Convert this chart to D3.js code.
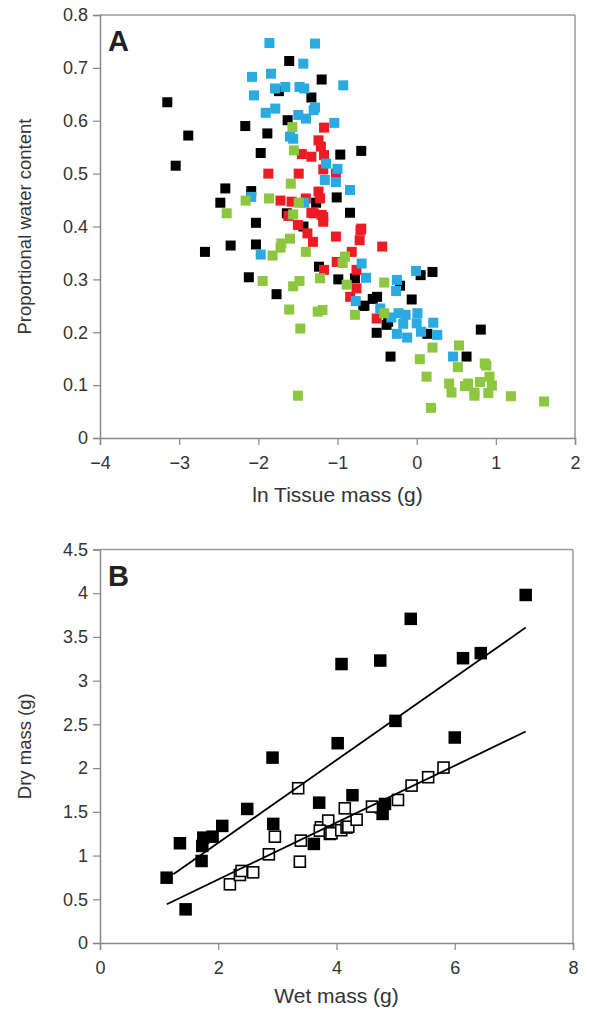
<!DOCTYPE html>
<html>
<head>
<meta charset="utf-8">
<script src="https://cdn.jsdelivr.net/npm/d3@7"></script>
<style>
  body { margin: 0; background: #fff; }
  svg text { font-family: "Liberation Sans", Arial, sans-serif; }
</style>
</head>
<body>
<div id="chart"></div>
<script>
// Panel A: ln tissue mass vs proportional water content, four groups
const blackA = [[-3.15,0.635],[-2.885,0.572],[-3.044,0.515],[-2.165,0.590],[-1.886,0.576],[-1.97,0.539],[-1.61,0.713],[-1.74,0.656],[-1.63,0.601],[-2.417,0.472],[-2.09,0.467],[-2.48,0.445],[-2.03,0.407],[-1.64,0.425],[-1.20,0.678],[-1.33,0.644],[-0.965,0.536],[-0.70,0.543],[-1.01,0.455],[-0.842,0.426],[-1.27,0.445],[-2.674,0.352],[-2.35,0.364],[-2.03,0.366],[-2.12,0.304],[-1.77,0.272],[-1.234,0.324],[-0.99,0.30],[-0.674,0.25],[-1.43,0.40],[-0.78,0.302],[0.20,0.314],[0.05,0.308],[-0.21,0.288],[-0.063,0.262],[-0.50,0.267],[-0.555,0.263],[-0.66,0.25],[-0.38,0.214],[-0.36,0.22],[-0.505,0.199],[0.135,0.197],[-0.33,0.154],[0.63,0.154],[0.81,0.205]];
const redA = [[-1.874,0.500],[-1.72,0.449],[-1.62,0.42],[-1.17,0.587],[-1.24,0.563],[-1.21,0.551],[-1.45,0.537],[-1.33,0.532],[-1.17,0.535],[-1.18,0.508],[-1.49,0.500],[-1.02,0.500],[-1.58,0.447],[-1.40,0.453],[-1.24,0.466],[-1.22,0.453],[-1.33,0.426],[-1.18,0.418],[-1.50,0.403],[-0.70,0.396],[-1.30,0.425],[-1.20,0.422],[-1.18,0.409],[-1.38,0.387],[-1.31,0.371],[-1.02,0.381],[-0.71,0.393],[-0.72,0.374],[-0.82,0.352],[-1.01,0.333],[-1.17,0.318],[-0.76,0.318],[-0.76,0.283],[-0.84,0.267],[-0.435,0.362],[-0.505,0.226]];
const blueA = [[-1.86,0.747],[-2.08,0.683],[-1.84,0.689],[-1.79,0.661],[-1.66,0.664],[-2.055,0.648],[-1.907,0.615],[-1.786,0.623],[-1.60,0.570],[-2.09,0.456],[-1.284,0.746],[-1.432,0.708],[-1.48,0.664],[-1.42,0.661],[-0.927,0.667],[-1.284,0.625],[-1.30,0.62],[-1.495,0.611],[-1.398,0.604],[-1.04,0.596],[-1.56,0.566],[-1.145,0.519],[-1.0,0.509],[-1.16,0.488],[-1.02,0.484],[-0.842,0.469],[-1.42,0.445],[-1.97,0.347],[-0.695,0.330],[-0.64,0.303],[-0.77,0.259],[-0.008,0.316],[-0.25,0.299],[-0.26,0.278],[-0.46,0.245],[-0.23,0.236],[-0.14,0.233],[-0.32,0.228],[0.01,0.236],[-0.17,0.216],[0.0,0.217],[0.055,0.201],[0.21,0.218],[0.26,0.195],[-0.25,0.197],[-0.12,0.190],[0.46,0.154]];
const greenA = [[-2.16,0.449],[-1.865,0.453],[-2.40,0.425],[-1.57,0.588],[-1.55,0.544],[-1.59,0.481],[-1.49,0.445],[-1.56,0.423],[-1.60,0.377],[-1.71,0.368],[-1.72,0.36],[-1.82,0.345],[-1.40,0.352],[-1.945,0.297],[-1.56,0.287],[-1.48,0.297],[-1.22,0.302],[-0.905,0.343],[-0.935,0.331],[-0.884,0.29],[-1.61,0.243],[-1.25,0.239],[-1.19,0.242],[-0.78,0.233],[-1.47,0.207],[-1.50,0.080],[-0.41,0.294],[-0.41,0.236],[0.20,0.171],[0.535,0.175],[0.04,0.149],[0.52,0.134],[0.86,0.141],[0.88,0.137],[0.125,0.116],[0.41,0.103],[0.61,0.098],[0.65,0.103],[0.80,0.106],[0.95,0.099],[0.92,0.116],[0.44,0.086],[0.73,0.086],[0.73,0.08],[0.905,0.085],[1.19,0.079],[1.61,0.069],[0.18,0.057]];
const xTicksA = [-4, -3, -2, -1, 0, 1, 2];
const yTicksA = [0, 0.1, 0.2, 0.3, 0.4, 0.5, 0.6, 0.7, 0.8];

// Panel B: wet mass vs dry mass
const filledB = [[1.127,0.747],[1.448,0.385],[1.352,1.141],[1.718,0.938],[1.73,1.11],[1.747,1.205],[1.904,1.216],[2.068,1.339],[2.49,1.533],[2.918,2.12],[2.93,1.362],[3.707,1.605],[3.617,1.133],[4.02,2.285],[4.27,1.69],[4.78,1.476],[4.82,1.59],[4.75,1.55],[4.085,3.19],[4.74,3.23],[5.256,3.707],[4.997,2.54],[6.0,2.35],[6.14,3.257],[6.44,3.315],[7.2,3.98]];
const openB = [[2.197,0.671],[2.366,0.778],[2.394,0.824],[2.59,0.808],[2.856,1.014],[2.958,1.216],[3.352,1.77],[3.397,1.171],[3.38,0.93],[3.735,1.323],[3.86,1.40],[3.718,1.285],[3.887,1.247],[3.915,1.255],[4.08,1.29],[4.14,1.54],[4.17,1.32],[4.2,1.33],[4.34,1.41],[4.60,1.56],[5.04,1.636],[5.27,1.80],[5.55,1.896],[5.81,2.006]];
const fitFilled = [[1.24,0.786],[7.2,3.607]];
const fitOpen = [[1.13,0.443],[7.2,2.418]];
const xTicksB = [0, 2, 4, 6, 8];
const yTicksB = [0, 0.5, 1, 1.5, 2, 2.5, 3, 3.5, 4, 4.5];

const W = 590, H = 1010;
const svg = d3.select('#chart').append('svg').attr('width', W).attr('height', H);

function frame(g, x, y, xTicks, yTicks, yFmt) {
  const [x0, x1] = x.range();
  const [y0, y1] = y.range();
  g.append('line').attr('x1', x0).attr('x2', x1).attr('y1', y1).attr('y2', y1).attr('stroke', '#999').attr('stroke-width', 1.5);
  g.append('line').attr('x1', x1).attr('x2', x1).attr('y1', y1).attr('y2', y0).attr('stroke', '#999').attr('stroke-width', 1.5);

  const xa = g.append('g').attr('transform', `translate(0,${y0})`)
    .call(d3.axisBottom(x).tickValues(xTicks).tickSize(7).tickPadding(11).tickFormat(d3.format('~g')));
  const ya = g.append('g').attr('transform', `translate(${x0},0)`)
    .call(d3.axisLeft(y).tickValues(yTicks).tickSize(7).tickPadding(5).tickFormat(yFmt));
  [xa, ya].forEach(a => {
    a.select('.domain').attr('stroke', '#888').attr('stroke-width', 1.5);
    a.selectAll('.tick line').attr('stroke', '#888').attr('stroke-width', 1.2);
    a.selectAll('text').attr('fill', '#333').style('font-size', '18px');
  });
}

function labels(g, x, y, xl, yl, tag, xlOff) {
  const [x0, x1] = x.range();
  const [y0, y1] = y.range();
  g.append('text').attr('x', (x0 + x1) / 2).attr('y', y0 + xlOff).attr('text-anchor', 'middle')
    .attr('fill', '#333').style('font-size', '21px').text(xl);
  g.append('text').attr('transform', `translate(31,${(y0 + y1) / 2}) rotate(-90)`).attr('text-anchor', 'middle')
    .attr('fill', '#333').style('font-size', '18.5px').text(yl);
  g.append('text').attr('x', x0 + 8).attr('y', y1 + 36).attr('fill', '#222')
    .style('font-size', '29px').style('font-weight', 'bold').text(tag);
}

// ---- Panel A
const xA = d3.scaleLinear().domain([-4, 2]).range([100, 575]);
const yA = d3.scaleLinear().domain([0, 0.8]).range([438, 15]);
const gA = svg.append('g');
frame(gA, xA, yA, xTicksA, yTicksA, d => d === 0 ? '0' : d3.format('.1f')(d));

const groupsA = [
  { data: blackA, color: '#000000' },
  { data: redA, color: '#ed1c24' },
  { data: blueA, color: '#29abe2' },
  { data: greenA, color: '#8dc63f' },
];
const sA = 10;
groupsA.forEach(grp => {
  gA.append('g').selectAll('rect').data(grp.data).enter().append('rect')
    .attr('x', d => xA(d[0]) - sA / 2).attr('y', d => yA(d[1]) - sA / 2)
    .attr('width', sA).attr('height', sA).attr('fill', grp.color);
});
labels(gA, xA, yA, 'ln Tissue mass (g)', 'Proportional water content', 'A', 64);

// ---- Panel B
const xB = d3.scaleLinear().domain([0, 8]).range([100, 573]);
const yB = d3.scaleLinear().domain([0, 4.5]).range([943, 549.5]);
const gB = svg.append('g');
frame(gB, xB, yB, xTicksB, yTicksB, d3.format('~g'));

const sB = 12.5;
gB.append('g').selectAll('rect').data(filledB).enter().append('rect')
  .attr('x', d => xB(d[0]) - sB / 2).attr('y', d => yB(d[1]) - sB / 2)
  .attr('width', sB).attr('height', sB).attr('fill', '#000');
const sO = 11;
gB.append('g').selectAll('rect').data(openB).enter().append('rect')
  .attr('x', d => xB(d[0]) - sO / 2).attr('y', d => yB(d[1]) - sO / 2)
  .attr('width', sO).attr('height', sO).attr('fill', '#fff').attr('stroke', '#000').attr('stroke-width', 1.6);

const line = d3.line().x(d => xB(d[0])).y(d => yB(d[1]));
[fitFilled, fitOpen].forEach(f => {
  gB.append('path').attr('d', line(f)).attr('fill', 'none').attr('stroke', '#000').attr('stroke-width', 1.8);
});
labels(gB, xB, yB, 'Wet mass (g)', 'Dry mass (g)', 'B', 60);
</script>
</body>
</html>
